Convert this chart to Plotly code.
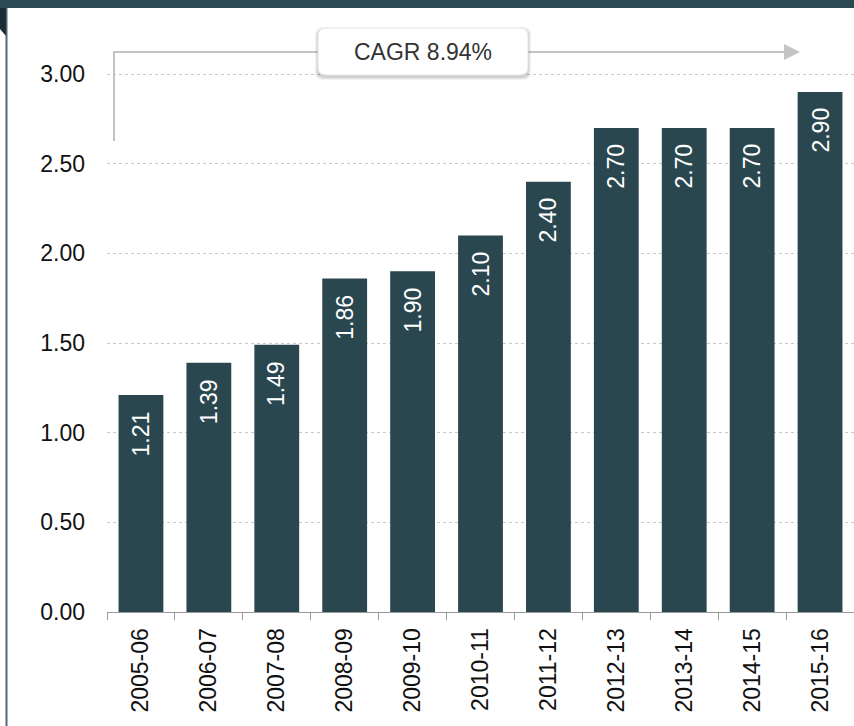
import plotly.graph_objects as go

# datos
periodos = ['2005-06', '2006-07', '2007-08', '2008-09', '2009-10', '2010-11',
            '2011-12', '2012-13', '2013-14', '2014-15', '2015-16']
valores = [1.21, 1.39, 1.49, 1.86, 1.90, 2.10, 2.40, 2.70, 2.70, 2.70, 2.90]
cagr_txt = 'CAGR 8.94%'
y_ticks = [0, 0.5, 1.0, 1.5, 2.0, 2.5, 3.0]

C_BAR = '#2a4750'
C_GRIS = '#c4c4c4'
FUENTE = 'Arial, Liberation Sans, sans-serif'
FS = 23

W, H = 854, 726
ML, MR, MT, MB = 107, 0, 20, 114
pw, ph = W - ML - MR, H - MT - MB


def px(x):  # pixel -> paper x
    return (x - ML) / pw


def py(y):  # pixel -> paper y
    return (H - MB - y) / ph


fig = go.Figure()
fig.add_trace(go.Bar(x=periodos, y=valores, marker_color=C_BAR,
                     marker_line_width=0, hoverinfo='x+y'))

# etiquetas de valor dentro de las barras
for p, v in zip(periodos, valores):
    fig.add_annotation(x=p, y=v, text=f'{v:.2f}', textangle=-90,
                       showarrow=False, yanchor='top', yshift=-14,
                       font=dict(family=FUENTE, size=FS, color='white'))

shapes = []
# banda superior y borde izquierdo
shapes.append(dict(type='rect', xref='paper', yref='paper', x0=px(0), x1=px(W),
                   y0=py(0), y1=py(8), fillcolor='#2b4a53', line_width=0))
shapes.append(dict(type='line', xref='paper', yref='paper', x0=px(6.5), x1=px(6.5),
                   y0=py(8), y1=py(H), line=dict(color='#52687a', width=2)))
shapes.append(dict(type='path', xref='paper', yref='paper',
                   path=f'M {px(0)},{py(8)} L {px(6)},{py(8)} L {px(6)},{py(36)} '
                        f'L {px(0)},{py(29)} Z',
                   fillcolor='#1b2d33', line_width=0))

# corchete CAGR
shapes.append(dict(type='path', xref='paper', yref='paper',
                   path=f'M {px(114)},{py(141)} L {px(114)},{py(52)} L {px(786)},{py(52)}',
                   line=dict(color=C_GRIS, width=2)))
shapes.append(dict(type='path', xref='paper', yref='paper',
                   path=f'M {px(784)},{py(44)} L {px(800)},{py(52)} L {px(784)},{py(60)} Z',
                   fillcolor=C_GRIS, line_width=0))


def caja(x0, y0, x1, y1, r):
    return (f'M {px(x0 + r)},{py(y0)} L {px(x1 - r)},{py(y0)} '
            f'Q {px(x1)},{py(y0)} {px(x1)},{py(y0 + r)} '
            f'L {px(x1)},{py(y1 - r)} Q {px(x1)},{py(y1)} {px(x1 - r)},{py(y1)} '
            f'L {px(x0 + r)},{py(y1)} Q {px(x0)},{py(y1)} {px(x0)},{py(y1 - r)} '
            f'L {px(x0)},{py(y0 + r)} Q {px(x0)},{py(y0)} {px(x0 + r)},{py(y0)} Z')


# sombra + caja
for d, op in [(4, 0.05), (3, 0.06), (2, 0.08)]:
    shapes.append(dict(type='path', xref='paper', yref='paper',
                       path=caja(318 - d + 1, 28 - d + 3, 528 + d - 1, 75 + d + 1, 8),
                       fillcolor=f'rgba(0,0,0,{op})', line_width=0))
shapes.append(dict(type='path', xref='paper', yref='paper',
                   path=caja(318, 28, 528, 75, 8),
                   fillcolor='white', line=dict(color='#e6e6e6', width=1)))

fig.add_annotation(xref='paper', yref='paper', x=px(423), y=py(52), text=cagr_txt,
                   showarrow=False, xanchor='center', yanchor='middle',
                   font=dict(family=FUENTE, size=FS, color='#333333'))

fig.update_layout(
    width=W, height=H, margin=dict(l=ML, r=MR, t=MT, b=MB, autoexpand=False),
    paper_bgcolor='white', plot_bgcolor='white',
    bargap=0.34, showlegend=False, shapes=shapes,
    font=dict(family=FUENTE, size=FS, color='#111111'),
)
fig.update_xaxes(type='category', tickangle=-90, tickson='boundaries', ticks='outside',
                 ticklen=7, tickcolor='#9a9a9a', showline=True, linecolor='#9a9a9a',
                 linewidth=1, showgrid=False, ticklabelstandoff=6, automargin=False,
                 tickfont=dict(size=FS))
fig.update_yaxes(range=[0, (H - MB - MT) / 179.3], tickvals=y_ticks, tickformat='.2f',
                 showgrid=True, gridcolor='#c8c8c8', griddash='dot', gridwidth=1,
                 zeroline=False, ticks='', ticklabelstandoff=21, automargin=False,
                 tickfont=dict(size=FS))

# sin margen del body para que la figura arranque en (0, 0)
fig.write_html('out.html', config={'displayModeBar': False},
               post_script="document.body.style.margin='0';"
                           "document.body.style.overflow='hidden';")
